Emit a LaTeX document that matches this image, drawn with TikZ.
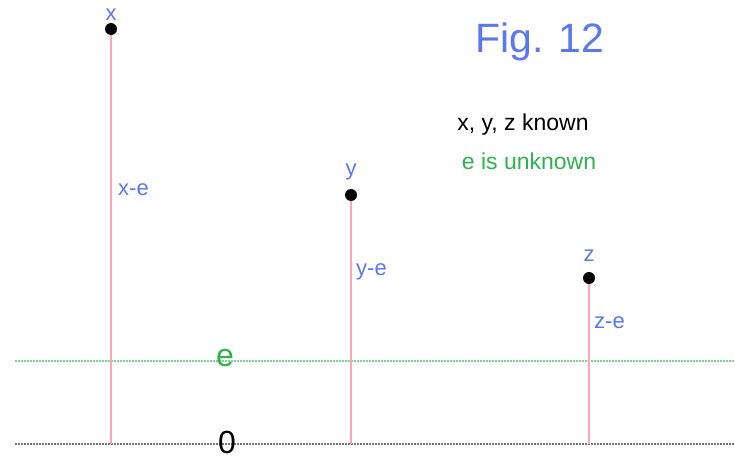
\documentclass[tikz,border=0pt]{standalone}
\usepackage{fontspec}
\setmainfont{Liberation Sans}
\definecolor{lblue}{HTML}{5B78EC}
\definecolor{lgreen}{HTML}{2DB34A}
\definecolor{lpink}{HTML}{FFA4B8}
\definecolor{lgreendot}{HTML}{7AD492}
\begin{document}
\begin{tikzpicture}[x=1pt,y=-1pt,
  lbl/.style={text=lblue,font=\fontsize{22}{22}\selectfont,inner sep=0pt},
  pt/.style={circle,fill=black,inner sep=0pt,minimum size=12pt},
  stem/.style={color=lpink,line width=1.1pt},
  base/.style={dash pattern=on 1.5pt off 1.5pt,line width=1.1pt}]
\useasboundingbox (0,0) rectangle (735,460);
% base lines
\coordinate (gl) at (15,361);
\coordinate (gr) at (735,361);
\coordinate (kl) at (15,444);
\coordinate (kr) at (735,444);
\draw[base,color=lgreendot] (gl) -- (gr);
\draw[base,color=black!55] (kl) -- (kr);
% feet
\coordinate (fx) at (111,444);
\coordinate (fy) at (351,444);
\coordinate (fz) at (589,444);
% points
\node[pt] (px) at (111,29) {};
\node[pt] (py) at (351,195) {};
\node[pt] (pz) at (589,278) {};
\draw[stem] (px) -- (fx);
\draw[stem] (py) -- (fy);
\draw[stem] (pz) -- (fz);
\node[lbl] (tx) at (111,15) {x};
\node[lbl] (ty) at (351,172) {y};
\node[lbl] (tz) at (589,256) {z};
\node[lbl,anchor=west] (dx) at (118,190) {x-e};
\node[lbl,anchor=west] (dy) at (356,272) {y-e};
\node[lbl,anchor=west] (dz) at (594,323) {z-e};
\node[text=lgreen,font=\fontsize{32}{32}\selectfont,inner sep=0pt] (e) at (225,358) {e};
\node[text=black,font=\fontsize{32}{32}\selectfont,inner sep=0pt] (zero) at (227,442) {0};
\node[text=lblue,font=\fontsize{41}{41}\selectfont,inner sep=0pt] (fig) at (540,42) {Fig. 12};
\node[text=black,font=\fontsize{23}{23}\selectfont,inner sep=0pt] (known) at (523,125) {x, y, z known};
\node[text=lgreen,font=\fontsize{23}{23}\selectfont,inner sep=0pt] (unk) at (529,161) {e is unknown};
\end{tikzpicture}
\end{document}
